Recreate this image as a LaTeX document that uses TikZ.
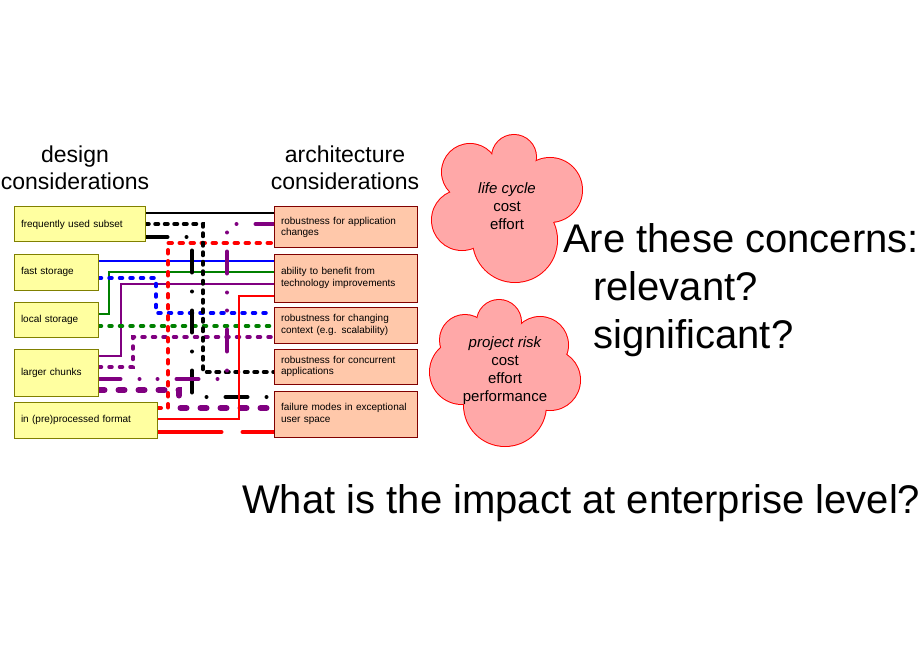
\documentclass[tikz,border=0pt]{standalone}
\usepackage{fontspec}
\setmainfont{Liberation Sans}
\usetikzlibrary{backgrounds}
\definecolor{lbfill}{RGB}{255,255,160}
\definecolor{lbdraw}{RGB}{128,128,0}
\definecolor{rbfill}{RGB}{255,200,170}
\definecolor{rbdraw}{RGB}{128,0,0}
\definecolor{cloudfill}{RGB}{255,168,168}
\definecolor{cpurple}{RGB}{128,0,128}
\definecolor{cgreen}{RGB}{0,128,0}
\definecolor{cblue}{RGB}{0,0,255}
\definecolor{cred}{RGB}{255,0,0}
\begin{document}
\begin{tikzpicture}[x=1pt,y=-1pt,
  lbox/.style={draw=lbdraw, fill=lbfill, line width=1pt, inner xsep=7pt, inner ysep=0pt,
    align=left, font=\fontsize{10}{11.5}\selectfont, anchor=center},
  rbox/.style={draw=rbdraw, fill=rbfill, line width=1pt, inner xsep=7pt, inner ysep=0pt,
    align=left, font=\fontsize{10}{11.5}\selectfont, anchor=center, text width=129pt},
  heading/.style={align=center, inner sep=0pt, font=\fontsize{23}{27}\selectfont},
  cloudtext/.style={align=center, inner sep=0pt, font=\fontsize{15}{18}\selectfont},
  bigtext/.style={anchor=base west, inner sep=0pt, font=\fontsize{40}{48}\selectfont},
  thinln/.style={line width=1.5pt},
  dotln/.style={line width=3.5pt, line cap=round, dash pattern=on 3pt off 7.5pt},
  blkdash/.style={line width=3.5pt, line cap=round, dash pattern=on 3.5pt off 6pt},
  reddash/.style={line width=4pt, line cap=round, dash pattern=on 3.5pt off 7.5pt},
  bigdash/.style={line width=6pt, line cap=round, dash pattern=on 6pt off 14pt},
  longdash/.style={line width=4pt, line cap=round, dash pattern=on 64pt off 21pt},
  dashdot/.style={line width=4pt, line cap=round, dash pattern=on 22pt off 19pt on 0pt off 19pt},
  dashdotdot/.style={line width=4pt, line cap=round, dash pattern=on 22pt off 19pt on 0pt off 18pt on 0pt off 19pt}
]
\useasboundingbox (0,0) rectangle (920,660);

% headings
\node[heading] (hd) at (75,168) {design\\considerations};
\node[heading] (ha) at (345,168) {architecture\\considerations};

% left boxes
\node[lbox, text width=117pt, minimum height=35pt] (L1) at (79.5,224.5) {frequently used subset};
\node[lbox, text width=70pt, minimum height=36pt] (L2) at (56,272) {fast storage};
\node[lbox, text width=70pt, minimum height=35pt] (L3) at (56,319.5) {local storage};
\node[lbox, text width=70pt, minimum height=47pt] (L4) at (56,372.5) {larger chunks};
\node[lbox, text width=129pt, minimum height=36pt] (L5) at (85.5,420) {in (pre)processed format};

% right boxes
\node[rbox, minimum height=41pt] (R1) at (345.5,227.5) {robustness for application\\changes};
\node[rbox, minimum height=48pt] (R2) at (345.5,278) {ability to benefit from\\technology improvements};
\node[rbox, minimum height=36pt] (R3) at (345.5,325) {robustness for changing\\context (e.g. scalability)};
\node[rbox, minimum height=35pt] (R4) at (345.5,366.5) {robustness for concurrent\\applications};
\node[rbox, minimum height=46pt] (R5) at (345.5,414) {failure modes in exceptional\\user space};

\begin{scope}[on background layer]
  \fill[white] (0,0) rectangle (920,660);
  % thin solid connectors
  \draw[thinln, black] (L1.east |- 0,213) -- (R1.west |- 0,213);
  \draw[thinln, cblue] (L2.east |- 0,261) -- (R2.west |- 0,261);
  \draw[thinln, cgreen] (L3.east |- 0,314) -| (109,272) -- (R2.west |- 0,272);
  \draw[thinln, cpurple] (L4.east |- 0,356) -| (121,284) -- (R2.west |- 0,284);
  % dotted connectors
  \draw[dotln, cblue] (L2.east |- 0,278) -| (156,313) -- (R3.west |- 0,313);
  \draw[dotln, cgreen] (L3.east |- 0,326) -- (R3.west |- 0,326);
  \draw[dotln, cpurple] (L4.east |- 0,367) -| (133,337) -- (R3.west |- 0,337);
  \draw[reddash, cred] (L5.east |- 0,408) -| (168,243) -- (R1.west |- 0,243);
  \draw[blkdash, black] (L1.east |- 0,224) -| (203,372) -- (R4.west |- 0,372);
  % heavy patterned connectors
  \draw[dashdot, black] (L1.east |- 0,237) -| (192,397) -- (R5.west |- 0,397);
  \draw[dashdotdot, cpurple] (L4.east |- 0,379) -| (227,224) -- (R1.west |- 0,224);
  \draw[bigdash, cpurple] (L4.east |- 0,390) -| (179,408) -- (R5.west |- 0,408);
  \draw[longdash, cred] (L5.east |- 0,432) -- (R5.west |- 0,432);
  \draw[thinln, cred] (L5.east |- 0,419) -| (239,296) -- (R2.west |- 0,296);
\end{scope}

% cloud 1
\foreach \cx/\cy/\r in {514/157/22, 470/172/28, 462/220/30, 515/240/42, 550/190/32, 505/205/40}
  \draw[cred, line width=2pt] (\cx,\cy) circle (\r pt);
\foreach \cx/\cy/\r in {514/157/22, 470/172/28, 462/220/30, 515/240/42, 550/190/32, 505/205/40}
  \fill[cloudfill] (\cx,\cy) circle (\r pt);
% cloud 2
\foreach \cx/\cy/\r in {499/322/22, 540/345/28, 550/380/30, 505/405/41, 462/372/32, 465/340/25, 505/370/40}
  \draw[cred, line width=2pt] (\cx,\cy) circle (\r pt);
\foreach \cx/\cy/\r in {499/322/22, 540/345/28, 550/380/30, 505/405/41, 462/372/32, 465/340/25, 505/370/40}
  \fill[cloudfill] (\cx,\cy) circle (\r pt);

\node[cloudtext] (c1) at (507,206) {\itshape life cycle\\cost\\effort};
\node[cloudtext] (c2) at (505,371) {\itshape project risk\\cost\\effort\\performance};

% big questions
\node[bigtext] (q1) at (563,252) {Are these concerns:};
\node[bigtext] (q2) at (593,300) {relevant?};
\node[bigtext] (q3) at (593,348) {significant?};
\node[bigtext] (q4) at (242,513) {What is the impact at enterprise level?};
\end{tikzpicture}
\end{document}
